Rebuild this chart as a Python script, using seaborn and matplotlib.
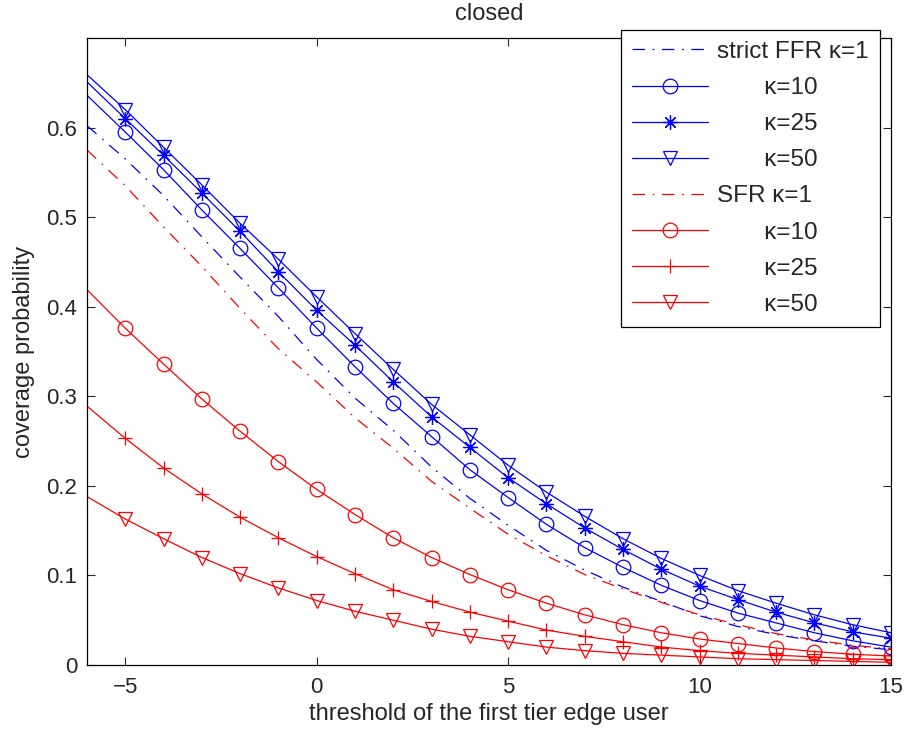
import numpy as np
import pandas as pd
import matplotlib
matplotlib.use("Agg")
import matplotlib.pyplot as plt
import seaborn as sns

# ---- data -------------------------------------------------------------
x = list(range(-6, 16))

ffr_k1 = [0.602, 0.565, 0.524, 0.478, 0.433, 0.389, 0.341, 0.298, 0.262, 0.221, 0.186,
          0.156, 0.128, 0.106, 0.087, 0.071, 0.055, 0.043, 0.034, 0.027, 0.021, 0.017]
ffr_k10 = [0.636, 0.595, 0.553, 0.508, 0.465, 0.421, 0.376, 0.333, 0.292, 0.255, 0.218,
           0.187, 0.157, 0.131, 0.109, 0.089, 0.072, 0.058, 0.047, 0.036, 0.027, 0.020]
ffr_k25 = [0.651, 0.610, 0.569, 0.527, 0.484, 0.439, 0.396, 0.357, 0.316, 0.277, 0.243,
           0.209, 0.180, 0.153, 0.129, 0.107, 0.088, 0.073, 0.059, 0.047, 0.037, 0.030]
ffr_k50 = [0.659, 0.620, 0.578, 0.536, 0.493, 0.453, 0.411, 0.370, 0.330, 0.291, 0.257,
           0.223, 0.193, 0.166, 0.141, 0.119, 0.100, 0.083, 0.069, 0.056, 0.045, 0.036]

sfr_k1 = [0.575, 0.535, 0.489, 0.445, 0.398, 0.353, 0.316, 0.276, 0.242, 0.205, 0.175,
          0.146, 0.122, 0.101, 0.085, 0.070, 0.056, 0.045, 0.035, 0.028, 0.022, 0.018]
sfr_k10 = [0.419, 0.376, 0.336, 0.297, 0.261, 0.227, 0.196, 0.168, 0.142, 0.120, 0.101,
           0.084, 0.069, 0.056, 0.045, 0.036, 0.029, 0.024, 0.019, 0.015, 0.012, 0.010]
sfr_k25 = [0.289, 0.253, 0.220, 0.191, 0.165, 0.142, 0.121, 0.102, 0.084, 0.071, 0.059,
           0.049, 0.039, 0.032, 0.026, 0.020, 0.016, 0.013, 0.011, 0.009, 0.007, 0.006]
sfr_k50 = [0.188, 0.163, 0.141, 0.120, 0.102, 0.086, 0.072, 0.060, 0.050, 0.040, 0.032,
           0.026, 0.020, 0.016, 0.013, 0.011, 0.009, 0.007, 0.006, 0.005, 0.004, 0.003]

labels = ["strict FFR \u03ba=1", "       \u03ba=10", "       \u03ba=25", "       \u03ba=50",
          "SFR \u03ba=1", "       \u03ba=10", "       \u03ba=25", "       \u03ba=50"]
xticks = [-5, 0, 5, 10, 15]
xticklabels = ["\u22125", "0", "5", "10", "15"]
yticks = [0, 0.1, 0.2, 0.3, 0.4, 0.5, 0.6]
yticklabels = ["0", "0.1", "0.2", "0.3", "0.4", "0.5", "0.6"]

# ---- style ------------------------------------------------------------
sns.set_style("ticks")
plt.rcParams["font.family"] = ["Liberation Sans", "DejaVu Sans"]
plt.rcParams["lines.scale_dashes"] = False
plt.rcParams["xtick.direction"] = "in"
plt.rcParams["ytick.direction"] = "in"

W, H = 909, 733
fig = plt.figure(figsize=(W / 100, H / 100), dpi=100)
ax = fig.add_axes([87 / W, 1 - 665 / H, (891 - 87) / W, (665 - 38) / H])

blue = "#0000ff"
red = "#ff0000"
dashdot = (0, (9, 5.5, 1.2, 5.5))
series = [
    (ffr_k1, blue, None, dashdot),
    (ffr_k10, blue, "o", "-"),
    (ffr_k25, blue, (8, 2, 0), "-"),
    (ffr_k50, blue, "v", "-"),
    (sfr_k1, red, None, dashdot),
    (sfr_k10, red, "o", "-"),
    (sfr_k25, red, "+", "-"),
    (sfr_k50, red, "v", "-"),
]

for (vals, col, mk, ls), lab in zip(series, labels):
    df = pd.DataFrame({"x": x, "y": vals})
    kw = dict(color=col, linewidth=0.9, linestyle=ls, label=lab, legend=False, ax=ax)
    if mk is not None:
        kw.update(marker=mk, markersize=10.5, markerfacecolor="none",
                  markeredgecolor=col, markeredgewidth=0.9,
                  markevery=list(range(1, len(x))))
    sns.lineplot(data=df, x="x", y="y", **kw)

FS = 17
ax.set_xlim(-6, 15)
ax.set_ylim(0, 0.7)
ax.set_xticks(xticks)
ax.set_xticklabels(xticklabels)
ax.set_yticks(yticks)
ax.set_yticklabels(yticklabels)
ax.tick_params(axis="both", which="both", labelsize=16, length=6, width=0.8,
               top=True, right=True)
ax.tick_params(axis="x", pad=8.5)
ax.tick_params(axis="y", pad=7)
for s in ax.spines.values():
    s.set_linewidth(0.9)
    s.set_color("black")

ax.set_xlabel("threshold of the first tier edge user", fontsize=FS, labelpad=4)
ax.set_ylabel("coverage probability", fontsize=FS, labelpad=8)
ax.set_title("closed", fontsize=FS, pad=13)

leg = ax.legend(loc="upper right", bbox_to_anchor=(880 / W, 1 - 30 / H),
                bbox_transform=fig.transFigure, borderaxespad=0,
                fontsize=17.5, frameon=True, fancybox=False,
                edgecolor="black", framealpha=1, handlelength=3.1, handletextpad=0.4,
                labelspacing=0.58, borderpad=0.45)
leg.get_frame().set_linewidth(0.9)

fig.savefig("out.png", dpi=100)
